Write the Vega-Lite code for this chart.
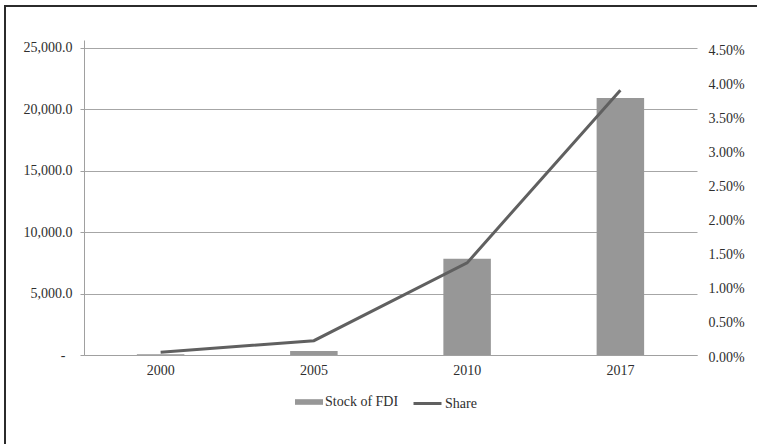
{
  "$schema": "https://vega.github.io/schema/vega-lite/v6.json",
  "width": 752,
  "height": 438,
  "autosize": {"type": "none"},
  "padding": {"left": 5, "top": 6, "right": 0, "bottom": 0},
  "background": "white",
  "config": {
    "view": {"stroke": "#2b2b2b", "strokeWidth": 2, "strokeDash": [752, 1190, 438]},
    "font": "Liberation Serif",
    "axis": {
      "labelFont": "Liberation Serif",
      "labelFontSize": 14,
      "labelColor": "#2e2e2e",
      "domainColor": "#a0a0a0",
      "tickColor": "#a0a0a0",
      "gridColor": "#a6a6a6",
      "title": null
    },
    "legend": {
      "labelFont": "Liberation Serif",
      "labelFontSize": 14,
      "labelColor": "#2e2e2e",
      "padding": 0,
      "labelOffset": 2
    }
  },
  "data": {
    "values": [
      {"year": "2000", "fdi": 60, "share": 0.0004},
      {"year": "2005", "fdi": 330, "share": 0.0021},
      {"year": "2010", "fdi": 7840, "share": 0.0135},
      {"year": "2017", "fdi": 20930, "share": 0.0388}
    ]
  },
  "encoding": {
    "x": {
      "field": "year",
      "type": "ordinal",
      "scale": {"range": [79, 692], "paddingInner": 0.69, "paddingOuter": 0.345},
      "axis": {
        "offset": -89,
        "labelAngle": 0,
        "ticks": false,
        "labelPadding": 8,
        "domainColor": "#a0a0a0",
        "grid": false
      }
    }
  },
  "layer": [
    {
      "mark": {"type": "bar"},
      "encoding": {
        "y": {
          "field": "fdi",
          "type": "quantitative",
          "scale": {"domain": [0, 25651], "range": [349, 34], "nice": false, "zero": true},
          "axis": {
            "orient": "left",
            "offset": -79,
            "values": [0, 5000, 10000, 15000, 20000, 25000],
            "tickSize": 4,
            "labelPadding": {"condition": {"test": "datum.value === 0", "value": 15}, "value": 8},
            "grid": true,
            "labelExpr": "datum.value === 0 ? '-' : format(datum.value, ',.1f')"
          }
        },
        "fill": {
          "datum": "Stock of FDI",
          "scale": {"range": ["#979797"]},
          "legend": {
            "title": null,
            "orient": "none",
            "legendX": 290,
            "legendY": 382,
            "symbolType": "M-1,-0.2H1V0.2H-1Z",
            "symbolSize": 784,
            "symbolStrokeWidth": 0
          }
        }
      }
    },
    {
      "mark": {"type": "line", "strokeWidth": 3},
      "encoding": {
        "y": {
          "field": "share",
          "type": "quantitative",
          "scale": {"domain": [0, 0.045], "range": [349, 42], "nice": false, "zero": true},
          "axis": {
            "orient": "right",
            "offset": -60,
            "values": [0, 0.005, 0.01, 0.015, 0.02, 0.025, 0.03, 0.035, 0.04, 0.045],
            "format": ".2%",
            "ticks": false,
            "domain": false,
            "grid": false,
            "labelPadding": 11,
            "labelOffset": 2
          }
        },
        "stroke": {
          "datum": "Share",
          "scale": {"range": ["#606060"]},
          "legend": {
            "title": null,
            "orient": "none",
            "legendX": 407,
            "legendY": 382,
            "symbolType": "stroke",
            "symbolSize": 784,
            "symbolStrokeWidth": 3
          }
        }
      }
    }
  ],
  "resolve": {"scale": {"y": "independent"}, "axis": {"y": "independent"}}
}
